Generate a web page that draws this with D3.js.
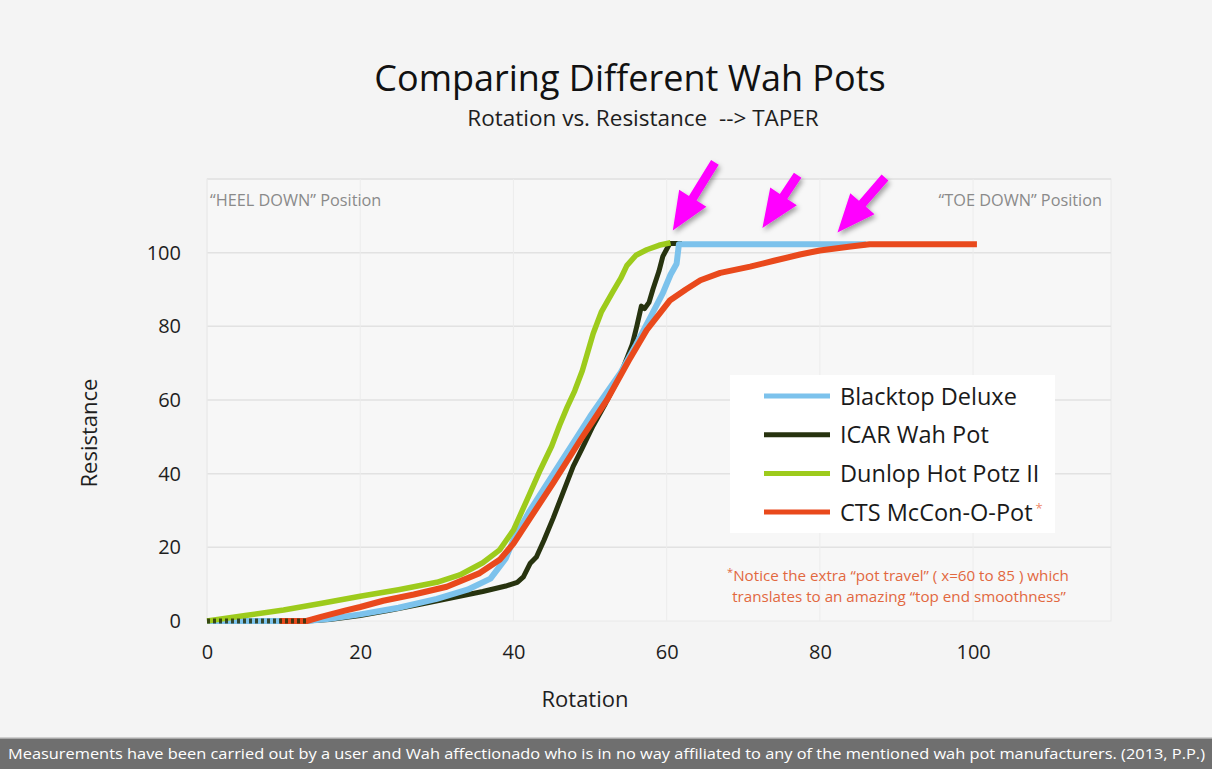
<!DOCTYPE html>
<html>
<head>
<meta charset="utf-8">
<script src="https://cdn.jsdelivr.net/npm/d3@7"></script>
<style>
  body { margin: 0; background: #f4f4f4; }
  svg { display: block; font-family: "Open Sans", "Noto Sans", sans-serif; }
</style>
</head>
<body>
<div id="chart"></div>
<script>
// rotation (x) vs resistance (y)
const blacktop = [[0,0],[13,0],[16,0.6],[20,1.8],[25,3.6],[30,6],[34,8.5],[37,11.5],[39,17],[40,22],[42,29.5],[44,36],[46,42.5],[48,49],[50,55.5],[52,61.5],[54,67.5],[56,75],[58,83],[59.5,89],[60.5,94],[61.3,97],[61.6,102.3],[86,102.3]];
const icar = [[0,0],[13,0],[16,0.4],[20,1.5],[24,3],[28,4.6],[32,6.3],[36,8],[39,9.5],[40.5,10.5],[41.3,12],[42.2,15.7],[43,17.4],[44,22],[45.2,28],[46.5,35],[47.8,42],[49,47],[50.4,53],[52,59],[54,67],[55.5,75],[56.1,80],[56.7,85.5],[57.1,84.8],[57.7,86.5],[58.2,90],[59,95],[59.5,99],[60.4,102.5],[62,102.5]];
const dunlop = [[0,0],[5,1.5],[10,3],[15,4.8],[20,6.7],[25,8.5],[30,10.5],[33,12.5],[36,15.8],[38.2,19.3],[40,24.7],[41.8,33],[43.5,41],[45,47.5],[46,53],[47,58],[48,62.5],[49,68],[50.4,78],[51.5,84],[53,89.5],[54,93],[54.8,96.5],[56,99.3],[57.4,100.8],[59,102],[60.5,102.7]];
const cts = [[9.5,0],[13,0],[15,1.2],[18,2.8],[20,3.8],[23,5.5],[27,7.2],[31.3,9.3],[35.6,13],[38.2,16.6],[40,21],[42.2,28],[45.2,37.5],[48.7,49],[52.2,60],[55,70.5],[57.4,79],[60.4,87],[62.5,90],[64.4,92.5],[67,94.5],[70.9,96.2],[74,97.8],[77.4,99.5],[80,100.6],[84,101.7],[86.5,102.3],[100.5,102.3]];

const seriesNames = ["Blacktop Deluxe", "ICAR Wah Pot", "Dunlop Hot Potz II", "CTS McCon-O-Pot"];
const seriesColors = ["#7cc2ec", "#27330f", "#9dcb1c", "#e9491c"];
const xTicks = [0, 20, 40, 60, 80, 100];
const yTicks = [0, 20, 40, 60, 80, 100];
// arrows: [tailX, tailY, tipX, tipY] in data units
const arrows = [[66.3,124.5,60.8,106],[77.1,121,72.5,106.7],[88.5,120.4,82.3,105.5]];

const W = 1212, H = 769;
const svg = d3.select('#chart').append('svg').attr('width', W).attr('height', H);
const x = d3.scaleLinear().domain([0, 118]).range([207, 1111]);
const y = d3.scaleLinear().domain([0, 120]).range([621, 179]);

svg.append('rect').attr('width', W).attr('height', H).attr('fill', '#f4f4f4');

// plot box + grid
svg.append('rect').attr('x', x(0)).attr('y', y(120)).attr('width', x(118) - x(0)).attr('height', y(0) - y(120))
  .attr('fill', '#f7f7f7').attr('stroke', '#e8e8e8');
svg.append('g').selectAll('line').data(d3.range(20, 121, 20)).enter().append('line')
  .attr('x1', x(0)).attr('x2', x(118)).attr('y1', d => y(d)).attr('y2', d => y(d))
  .attr('stroke', '#e2e2e2').attr('stroke-width', 1.5);
svg.append('g').selectAll('line').data(d3.range(0, 118, 20)).enter().append('line')
  .attr('x1', d => x(d)).attr('x2', d => x(d)).attr('y1', y(0)).attr('y2', y(120))
  .attr('stroke', '#ececec').attr('stroke-width', 1);

// axes (labels only)
const xAxis = g => g.attr('transform', 'translate(0,' + (y(0) + 14) + ')')
  .call(d3.axisBottom(x).tickValues(xTicks).tickSize(0).tickPadding(10))
  .call(g => g.select('.domain').remove());
const yAxis = g => g.attr('transform', 'translate(' + (x(0) - 26) + ',0)')
  .call(d3.axisLeft(y).tickValues(yTicks).tickSize(0).tickPadding(0))
  .call(g => g.select('.domain').remove());
svg.append('g').call(xAxis).selectAll('text').attr('font-size', 20).attr('fill', '#1e1e1e').attr('font-family', '"Open Sans", sans-serif');
svg.append('g').call(yAxis).selectAll('text').attr('font-size', 20).attr('fill', '#1e1e1e').attr('font-family', '"Open Sans", sans-serif');

svg.append('text').attr('x', 585).attr('y', 707).attr('text-anchor', 'middle').attr('font-size', 22).attr('fill', '#1e1e1e').text('Rotation');
svg.append('text').attr('transform', 'translate(97,433) rotate(-90)').attr('text-anchor', 'middle').attr('font-size', 22).attr('fill', '#1e1e1e').text('Resistance');

// titles
svg.append('text').attr('x', 630).attr('y', 91).attr('text-anchor', 'middle').attr('font-size', 36).attr('fill', '#111').text('Comparing Different Wah Pots');
svg.append('text').attr('x', 643).attr('y', 126).attr('text-anchor', 'middle').attr('font-size', 22.5).attr('fill', '#1e1e1e').attr('xml:space', 'preserve').text('Rotation vs. Resistance  --> TAPER');

svg.append('text').attr('x', 210).attr('y', 206).attr('font-size', 16.3).attr('fill', '#8a8a8a').text('\u201CHEEL DOWN\u201D Position');
svg.append('text').attr('x', 1102).attr('y', 206).attr('text-anchor', 'end').attr('font-size', 16.3).attr('fill', '#8a8a8a').text('\u201CTOE DOWN\u201D Position');

// lines
const line = d3.line().x(d => x(d[0])).y(d => y(d[1]));
const drawOrder = [1, 0, 2, 3];
const allSeries = [blacktop, icar, dunlop, cts];
const widths = [6, 5, 5.5, 6];
svg.append('g').selectAll('path').data(drawOrder).enter().append('path')
  .attr('d', i => line(allSeries[i])).attr('fill', 'none')
  .attr('stroke', i => seriesColors[i]).attr('stroke-width', i => widths[i])
  .attr('stroke-linejoin', 'round').attr('stroke-linecap', 'butt');
// dark dashes where the flat starts overlap at zero
svg.append('path').attr('d', line(icar.filter(d => d[1] === 0))).attr('fill', 'none')
  .attr('stroke', seriesColors[1]).attr('stroke-width', 5).attr('stroke-dasharray', '3,3').attr('opacity', 0.85);

// arrows
const defs = svg.append('defs');
const f = defs.append('filter').attr('id', 'sh').attr('x', '-50%').attr('y', '-50%').attr('width', '200%').attr('height', '200%');
f.append('feDropShadow').attr('dx', 2).attr('dy', 3).attr('stdDeviation', 2.5).attr('flood-color', '#000').attr('flood-opacity', 0.35);
svg.append('g').selectAll('path').data(arrows).enter().append('path')
  .attr('filter', 'url(#sh)').attr('fill', '#ff00ff')
  .attr('d', a => {
    const x0 = x(a[0]), y0 = y(a[1]), x1 = x(a[2]), y1 = y(a[3]);
    const len = Math.hypot(x1 - x0, y1 - y0);
    const hl = 38, hw = 16, sw = 4.5;
    const pts = [[0, -sw], [len - hl, -sw], [len - hl, -hw], [len, 0], [len - hl, hw], [len - hl, sw], [0, sw]];
    const ang = Math.atan2(y1 - y0, x1 - x0);
    const c = Math.cos(ang), s = Math.sin(ang);
    return 'M' + pts.map(p => [x0 + p[0] * c - p[1] * s, y0 + p[0] * s + p[1] * c].join(',')).join('L') + 'Z';
  });

// legend
const lg = svg.append('g');
lg.append('rect').attr('x', 730).attr('y', 375).attr('width', 325).attr('height', 158).attr('fill', '#ffffff');
const items = lg.selectAll('g').data(seriesNames).enter().append('g')
  .attr('transform', (d, i) => 'translate(0,' + (396 + i * 38.7) + ')');
items.append('line').attr('x1', 764).attr('x2', 830).attr('stroke', (d, i) => seriesColors[i]).attr('stroke-width', 5);
items.append('text').attr('x', 840).attr('y', 8.5).attr('font-size', 23.5).attr('fill', '#1a1a1a').text(d => d);
items.filter((d, i) => i === 3).select('text').append('tspan').attr('dy', -8).attr('dx', 3).attr('font-size', 13).attr('fill', '#ef8a6a').text('*');

// note
const note = svg.append('g').attr('font-size', 15.2).attr('fill', '#e2683f').attr('text-anchor', 'middle');
const n1 = note.append('text').attr('x', 898).attr('y', 581);
n1.append('tspan').attr('font-size', 11).attr('dy', -5).text('*');
n1.append('tspan').attr('dy', 5).text('Notice the extra \u201Cpot travel\u201D ( x=60 to 85 ) which');
note.append('text').attr('x', 899).attr('y', 602).text('translates to an amazing \u201Ctop end smoothness\u201D');

// footer
svg.append('rect').attr('x', 0).attr('y', 737).attr('width', W).attr('height', 1.5).attr('fill', '#cfcfcf');
svg.append('rect').attr('x', 0).attr('y', 738.5).attr('width', W).attr('height', H - 738.5).attr('fill', '#6f6f6f');
svg.append('text').attr('x', 8).attr('y', 759).attr('font-size', 14).attr('fill', '#ffffff')
  .attr('textLength', 1197).attr('lengthAdjust', 'spacingAndGlyphs')
  .text('Measurements have been carried out by a user and Wah affectionado who is in no way affiliated to any of the mentioned wah pot manufacturers.  (2013, P.P.)');
</script>
</body>
</html>
